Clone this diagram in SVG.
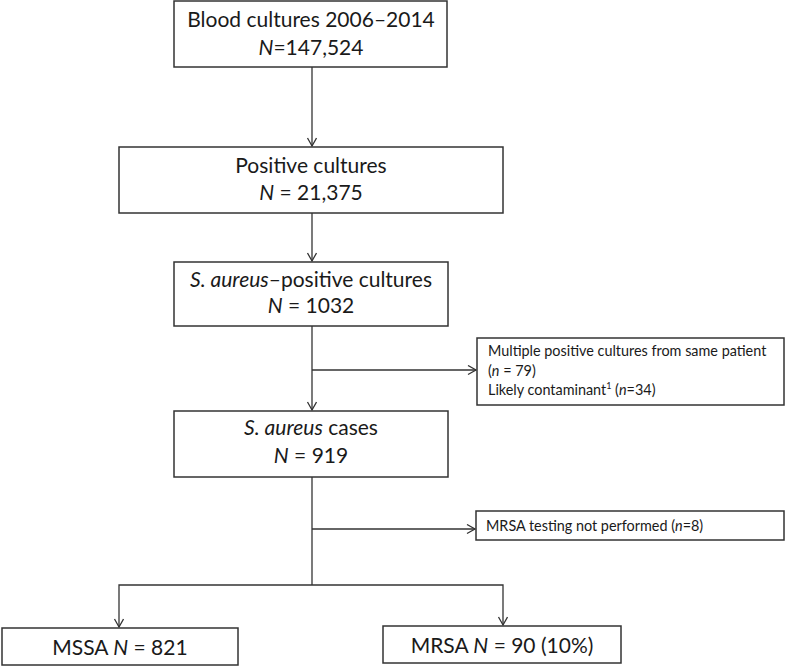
<svg xmlns="http://www.w3.org/2000/svg" width="786" height="667" viewBox="0 0 786 667">
<defs>
<style>
.box{fill:#fff;stroke:#333;stroke-width:1.5}
.ln{fill:none;stroke:#333;stroke-width:1.3}
.t{font-family:Lato,"Liberation Sans",sans-serif;font-size:21px;fill:#1a1a1a;text-anchor:middle}
.s{font-family:Lato,"Liberation Sans",sans-serif;font-size:14.4px;fill:#1a1a1a}
.i{font-style:italic}
</style>
<marker id="arr" markerUnits="userSpaceOnUse" markerWidth="12" markerHeight="12" refX="9" refY="5" orient="auto">
<path d="M1,0.5 L9,5 L1,9.5" fill="none" stroke="#333" stroke-width="1.3"/>
</marker>
</defs>
<rect width="786" height="667" fill="#fff"/>
<g id="connectors">
<line class="ln" x1="312" y1="67" x2="312" y2="146" marker-end="url(#arr)"/>
<line class="ln" x1="312" y1="213" x2="312" y2="261" marker-end="url(#arr)"/>
<line class="ln" x1="312" y1="326" x2="312" y2="410" marker-end="url(#arr)"/>
<line class="ln" x1="312" y1="370" x2="476" y2="370" marker-end="url(#arr)"/>
<line class="ln" x1="312" y1="477" x2="312" y2="585"/>
<line class="ln" x1="312" y1="529" x2="475" y2="529" marker-end="url(#arr)"/>
<polyline class="ln" points="119,600 119,585 503,585 503,600"/>
<line class="ln" x1="119" y1="600" x2="119" y2="627" marker-end="url(#arr)"/>
<line class="ln" x1="503" y1="600" x2="503" y2="625" marker-end="url(#arr)"/>
</g>
<g id="n1">
<rect class="box" x="174" y="1" width="273" height="66"/>
<text class="t" x="311" y="27">Blood cultures 2006–2014</text>
<text class="t" x="311" y="55"><tspan class="i">N</tspan>=147,524</text>
</g>
<g id="n2">
<rect class="box" x="119" y="147" width="384" height="66"/>
<text class="t" x="311" y="173">Positive cultures</text>
<text class="t" x="311" y="200"><tspan class="i">N</tspan> = 21,375</text>
</g>
<g id="n3">
<rect class="box" x="174" y="262" width="274" height="64"/>
<text class="t" x="311" y="287"><tspan class="i">S. aureus</tspan>–positive cultures</text>
<text class="t" x="311" y="313"><tspan class="i">N</tspan> = 1032</text>
</g>
<g id="x1">
<rect class="box" x="477" y="338" width="307" height="67"/>
<text class="s" x="488" y="356">Multiple positive cultures from same patient</text>
<text class="s" x="488" y="376">(<tspan class="i">n</tspan> = 79)</text>
<text class="s" x="488" y="395">Likely contaminant<tspan font-size="9" dy="-6">1</tspan><tspan dy="6"> (</tspan><tspan class="i">n</tspan>=34)</text>
</g>
<g id="n4">
<rect class="box" x="174" y="411" width="274" height="66"/>
<text class="t" x="311" y="435"><tspan class="i">S. aureus</tspan> cases</text>
<text class="t" x="311" y="463"><tspan class="i">N</tspan> = 919</text>
</g>
<g id="x2">
<rect class="box" x="476" y="511" width="308" height="29"/>
<text class="s" x="486" y="531">MRSA testing not performed (<tspan class="i">n</tspan>=8)</text>
</g>
<g id="n5">
<rect class="box" x="2" y="628" width="236" height="37"/>
<text class="t" x="120" y="655">MSSA <tspan class="i">N</tspan> = 821</text>
</g>
<g id="n6">
<rect class="box" x="383" y="626" width="238" height="37"/>
<text class="t" x="502" y="653">MRSA <tspan class="i">N</tspan> = 90 (10%)</text>
</g>
</svg>
